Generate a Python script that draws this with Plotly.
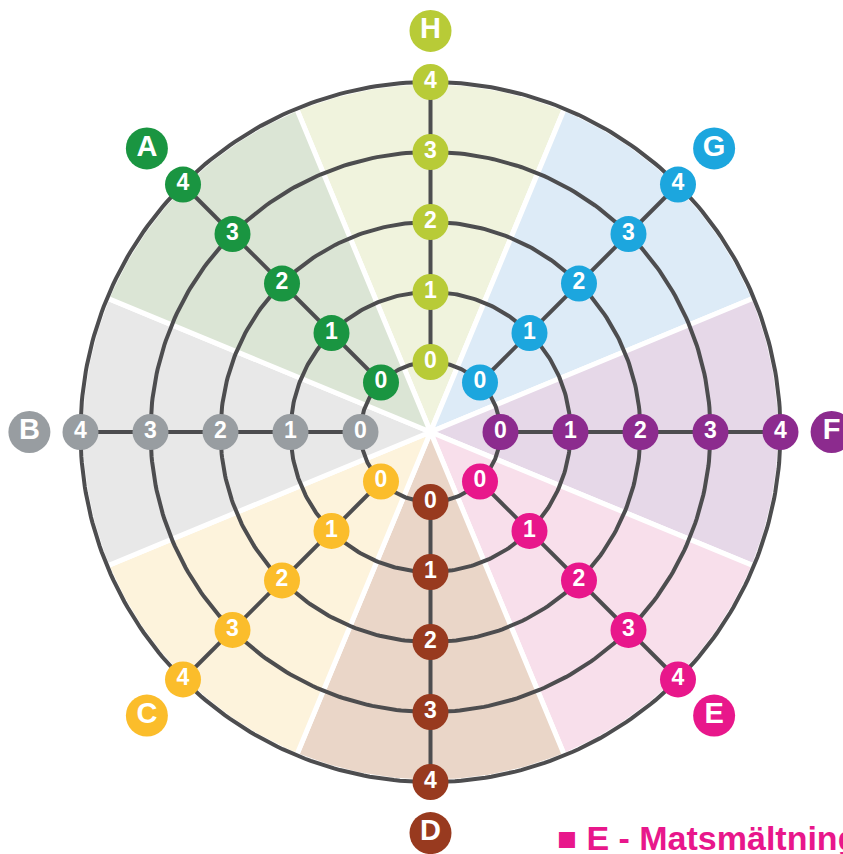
import numpy as np
import plotly.graph_objects as go

# ---- data ----
axis_letters = ["H", "G", "F", "E", "D", "C", "B", "A"]
axis_angles_deg = [90, 45, 0, -45, -90, -135, 180, 135]
marker_colors = ["#b8cb37", "#1ca6de", "#8c2b8e", "#e8178b", "#983a1f", "#fbbd2b", "#989da1", "#1a9541"]
wedge_colors = ["#f0f3dd", "#ddebf7", "#e6d8e8", "#f8dfeb", "#ead6c8", "#fdf3dc", "#e8e8e8", "#dbe5d5"]
levels = [0, 1, 2, 3, 4]
label_radius = 5.73          # radius of the letter badges (level units + 1)
footer_text = "E - Matsmältning"
footer_color = "#e8178b"

ring_color = "#4d4d4f"
half_width = 22.5

fig = go.Figure()

# wedges
for ang, col in zip(axis_angles_deg, wedge_colors):
    t = np.radians(np.linspace(ang - half_width, ang + half_width, 60))
    rr = len(levels)
    xs = np.concatenate([[0], rr * np.cos(t), [0]])
    ys = np.concatenate([[0], rr * np.sin(t), [0]])
    fig.add_trace(go.Scatter(x=xs, y=ys, mode="lines", fill="toself", fillcolor=col,
                             line=dict(color="white", width=5), hoverinfo="skip", showlegend=False))

# rings
tt = np.radians(np.linspace(0, 360, 361))
for lv in levels:
    r = lv + 1
    fig.add_trace(go.Scatter(x=r * np.cos(tt), y=r * np.sin(tt), mode="lines",
                             line=dict(color=ring_color, width=4), hoverinfo="skip", showlegend=False))

# spokes
for ang in axis_angles_deg:
    a = np.radians(ang)
    r0, r1 = levels[0] + 1, levels[-1] + 1
    fig.add_trace(go.Scatter(x=[r0 * np.cos(a), r1 * np.cos(a)], y=[r0 * np.sin(a), r1 * np.sin(a)],
                             mode="lines", line=dict(color=ring_color, width=4),
                             hoverinfo="skip", showlegend=False))

# level markers
for ang, col in zip(axis_angles_deg, marker_colors):
    a = np.radians(ang)
    rs = np.array(levels) + 1
    fig.add_trace(go.Scatter(x=rs * np.cos(a), y=rs * np.sin(a), mode="markers+text",
                             marker=dict(size=36, color=col, line=dict(width=0)),
                             text=[str(v) for v in levels], textposition="middle center",
                             textfont=dict(color="white", size=23, family="Liberation Sans, Arial", weight="bold"),
                             hoverinfo="skip", showlegend=False))

# letter badges
for ang, col, let in zip(axis_angles_deg, marker_colors, axis_letters):
    a = np.radians(ang)
    fig.add_trace(go.Scatter(x=[label_radius * np.cos(a)], y=[label_radius * np.sin(a)], mode="markers+text",
                             marker=dict(size=42, color=col, line=dict(width=0)),
                             text=[let], textposition="middle center",
                             textfont=dict(color="white", size=29, family="Liberation Sans, Arial", weight="bold"),
                             hoverinfo="skip", showlegend=False))

W, H = 843, 854
cx, cy, u = 430.5, 432, 70.0
fig.add_annotation(xref="paper", yref="paper", x=555 / W, y=(H - 838) / H,
                   xanchor="left", yanchor="middle",
                   text="<span style='font-size:33px'>■</span> " + footer_text, showarrow=False,
                   font=dict(color=footer_color, size=34, family="Liberation Sans, Arial", weight="bold"))

fig.update_layout(
    width=W, height=H, margin=dict(l=0, r=0, t=0, b=0),
    paper_bgcolor="white", plot_bgcolor="white",
    xaxis=dict(range=[-cx / u, (W - cx) / u], visible=False, fixedrange=True),
    yaxis=dict(range=[-(H - cy) / u, cy / u], visible=False, fixedrange=True),
)

fig.write_html("out.html", config={"displayModeBar": False},
               post_script="document.body.style.margin='0';document.body.style.overflow='hidden';")
